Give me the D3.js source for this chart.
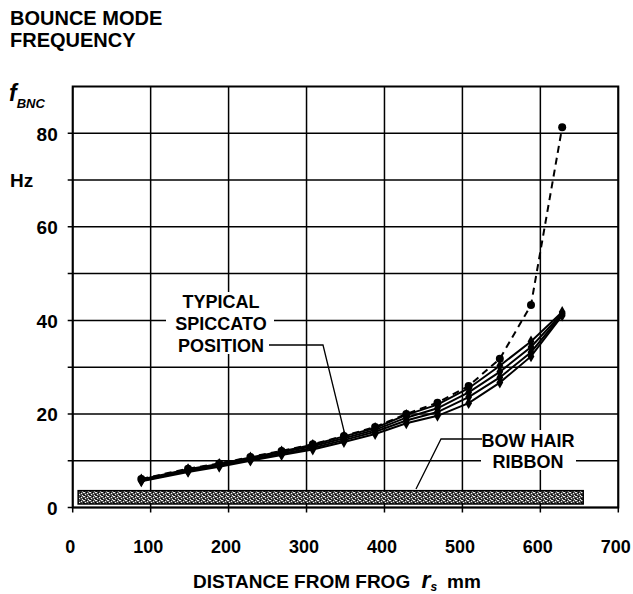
<!DOCTYPE html>
<html>
<head>
<meta charset="utf-8">
<script src="https://cdn.jsdelivr.net/npm/d3@7"></script>
<style>
  body { margin: 0; background: #fff; }
  svg text { font-family: "Liberation Sans", Arial, sans-serif; font-weight: bold; fill: #000; }
</style>
</head>
<body>
<svg id="chart" width="633" height="594"></svg>
<script>
// distances from frog (mm) where the curves were sampled
const distances = [88, 148, 188, 228, 268, 308, 348, 388, 428, 468, 508, 548, 588, 628];

// four solid curves (Hz), bunched together
const solidA = [6.0, 8.2, 9.3, 10.7, 12.0, 13.4, 15.2, 17.0, 19.8, 22.0, 25.5, 30.3, 35.5, 41.8];
const solidB = [5.9, 8.0, 9.1, 10.5, 11.8, 13.1, 14.8, 16.6, 19.2, 21.2, 24.6, 29.0, 34.3, 41.5];
const solidC = [5.7, 7.8, 8.9, 10.2, 11.5, 12.7, 14.4, 16.2, 18.6, 20.4, 23.6, 27.8, 33.2, 41.3];
const solidD = [5.6, 7.6, 8.7, 10.0, 11.2, 12.4, 14.0, 15.7, 18.0, 19.6, 22.3, 26.7, 32.3, 41.0];
// dashed curve that shoots up near the tip
const dashedE = [6.1, 8.3, 9.4, 10.8, 12.1, 13.5, 15.3, 17.2, 20.0, 22.4, 26.0, 31.8, 43.3, 81.3];

const xTickValues = [0, 100, 200, 300, 400, 500, 600, 700];
const yTickValues = [0, 20, 40, 60, 80];
const yGridValues = [0, 10, 20, 30, 40, 50, 60, 70, 80];

// bow hair ribbon band: [from mm, to mm], [low Hz, high Hz]
const ribbonSpan = [7, 655];
const ribbonHz = [0.75, 3.6];

const svg = d3.select('#chart');
const x = d3.scaleLinear().domain([0, 700]).range([72.7, 618.3]);
const y = d3.scaleLinear().domain([0, 90]).range([507.5, 86.5]);

// pattern for the ribbon texture (dark with white specks)
const defs = svg.append('defs');
const pat = defs.append('pattern').attr('id', 'hair')
  .attr('width', 6).attr('height', 4).attr('patternUnits', 'userSpaceOnUse');
pat.append('rect').attr('width', 6).attr('height', 4).attr('fill', '#4a4a4a');
[[0, 0], [3, 1], [1, 2], [4, 3], [5, 0]].forEach(p => {
  pat.append('rect').attr('x', p[0]).attr('y', p[1]).attr('width', 1).attr('height', 1).attr('fill', '#eee');
});
[[2, 0], [0, 3], [5, 2]].forEach(p => {
  pat.append('rect').attr('x', p[0]).attr('y', p[1]).attr('width', 1).attr('height', 1).attr('fill', '#000');
});

// grid
const grid = svg.append('g').attr('stroke', '#000').attr('stroke-width', 1.5);
grid.selectAll('.vg').data(xTickValues).enter().append('line')
  .attr('x1', d => x(d)).attr('x2', d => x(d))
  .attr('y1', y(90)).attr('y2', y(0) + 5);
grid.selectAll('.hg').data(yGridValues).enter().append('line')
  .attr('x1', x(0) - 5).attr('x2', x(700))
  .attr('y1', d => y(d)).attr('y2', d => y(d));
svg.append('rect')
  .attr('x', x(0)).attr('y', y(90))
  .attr('width', x(700) - x(0)).attr('height', y(0) - y(90))
  .attr('fill', 'none').attr('stroke', '#000').attr('stroke-width', 2);

// ribbon
svg.append('rect')
  .attr('x', x(ribbonSpan[0])).attr('y', y(ribbonHz[1]))
  .attr('width', x(ribbonSpan[1]) - x(ribbonSpan[0]))
  .attr('height', y(ribbonHz[0]) - y(ribbonHz[1]))
  .attr('fill', 'url(#hair)').attr('stroke', '#000').attr('stroke-width', 1.5);

// axis labels
const yAxis = d3.axisLeft(y).tickValues(yTickValues).tickSize(0).tickPadding(15);
const yg = svg.append('g').attr('transform', `translate(${x(0)},0)`).call(yAxis);
yg.select('.domain').remove();
yg.selectAll('text').attr('font-size', 19).attr('dy', '0.36em')
  .attr('font-family', '"Liberation Sans", Arial, sans-serif');

const xAxis = d3.axisBottom(x).tickValues(xTickValues).tickSize(0).tickPadding(33);
const xg = svg.append('g').attr('transform', `translate(0,${y(0)})`).call(xAxis);
xg.select('.domain').remove();
xg.selectAll('text').attr('font-size', 18).attr('dx', -3)
  .attr('font-family', '"Liberation Sans", Arial, sans-serif');

// annotation boxes with white backgrounds over the grid
function labelBlock(lines, cx, y0, lh, bg) {
  svg.append('rect').attr('x', bg[0]).attr('y', bg[1]).attr('width', bg[2]).attr('height', bg[3]).attr('fill', '#fff');
  lines.forEach((t, i) => {
    svg.append('text').attr('x', cx).attr('y', y0 + i * lh)
      .attr('text-anchor', 'middle').attr('font-size', 18).text(t);
  });
}
labelBlock(['TYPICAL', 'SPICCATO', 'POSITION'], 221, 308, 22, [166, 292, 108, 62]);
labelBlock(['BOW HAIR', 'RIBBON'], 528, 447, 21, [481, 430, 95, 40]);

// leader lines
svg.append('path').attr('d', 'M269,345 H323 L345,435')
  .attr('fill', 'none').attr('stroke', '#000').attr('stroke-width', 1.3);
svg.append('path').attr('d', 'M482,439 H441 L416,489')
  .attr('fill', 'none').attr('stroke', '#000').attr('stroke-width', 1.3);

// curves
const line = d3.line().x((d, i) => x(distances[i])).y(d => y(d));
[solidA, solidB, solidC, solidD].forEach(s => {
  svg.append('path').datum(s).attr('d', line)
    .attr('fill', 'none').attr('stroke', '#000').attr('stroke-width', 2);
  svg.append('g').selectAll('path').data(s).enter().append('path')
    .attr('transform', (d, i) => `translate(${x(distances[i])},${y(d)})`)
    .attr('d', d3.symbol(d3.symbolDiamond, 40));
});
svg.append('path').datum(dashedE).attr('d', line)
  .attr('fill', 'none').attr('stroke', '#000').attr('stroke-width', 2)
  .attr('stroke-dasharray', '7,5');
svg.append('g').selectAll('circle').data(dashedE).enter().append('circle')
  .attr('cx', (d, i) => x(distances[i])).attr('cy', d => y(d)).attr('r', 4);

// titles
svg.append('text').attr('x', 10).attr('y', 25).attr('font-size', 20).text('BOUNCE MODE');
svg.append('text').attr('x', 10).attr('y', 47).attr('font-size', 20).text('FREQUENCY');
const fl = svg.append('text').attr('x', 9).attr('y', 101).attr('font-style', 'italic');
fl.append('tspan').attr('font-size', 23).text('f');
fl.append('tspan').attr('font-size', 13).attr('dy', 7).text('BNC');
svg.append('text').attr('x', 10).attr('y', y(70) + 7).attr('font-size', 19).text('Hz');

const xt = svg.append('text').attr('x', 337).attr('y', 588).attr('text-anchor', 'middle').attr('font-size', 19);
xt.append('tspan').text('DISTANCE FROM FROG ');
xt.append('tspan').attr('font-style', 'italic').attr('font-size', 23).attr('dx', 6).text('r');
xt.append('tspan').attr('font-style', 'italic').attr('font-size', 12).attr('dy', 3).text('s');
xt.append('tspan').attr('dy', -3).attr('dx', 10).text('mm');
</script>
</body>
</html>
